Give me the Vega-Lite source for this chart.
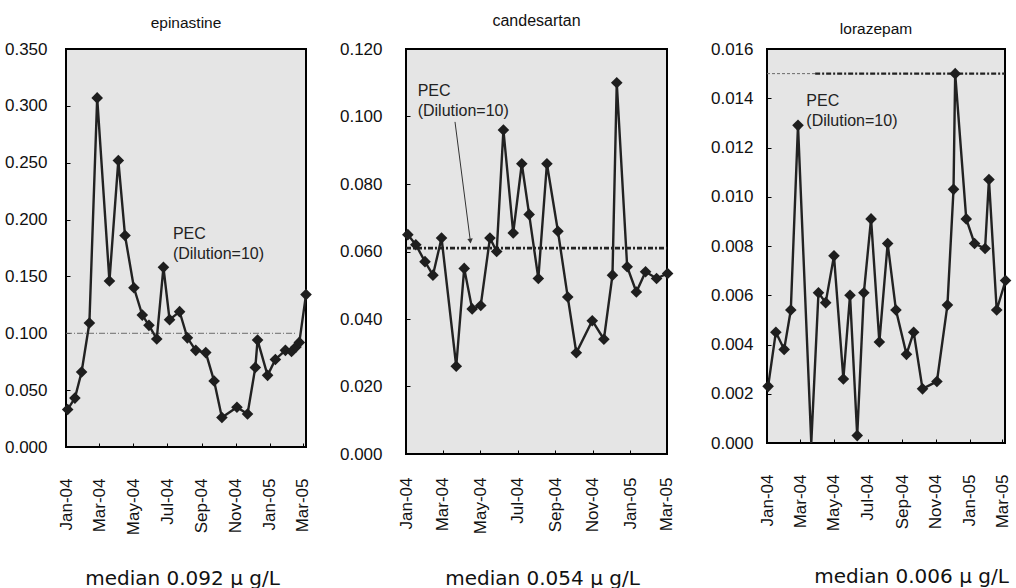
{
  "$schema": "https://vega.github.io/schema/vega-lite/v6.json",
  "background": "white",
  "padding": {"left": 3, "top": 12, "right": 0, "bottom": 0},
  "spacing": 100,
  "bounds": "flush",
  "config": {
    "view": {"fill": "#e5e5e5", "stroke": "#000000", "strokeWidth": 2},
    "axis": {"domain": false, "grid": false, "ticks": true, "tickColor": "#000000", "tickWidth": 1, "labelColor": "#111111", "titleColor": "#111111"}
  },
  "datasets": {
    "obs": [
      {"drug": "epinastine", "date": "2004-01-04", "conc": 0.033},
      {"drug": "epinastine", "date": "2004-01-17", "conc": 0.043},
      {"drug": "epinastine", "date": "2004-01-29", "conc": 0.066},
      {"drug": "epinastine", "date": "2004-02-12", "conc": 0.109},
      {"drug": "epinastine", "date": "2004-02-26", "conc": 0.307},
      {"drug": "epinastine", "date": "2004-03-19", "conc": 0.146},
      {"drug": "epinastine", "date": "2004-04-04", "conc": 0.252},
      {"drug": "epinastine", "date": "2004-04-16", "conc": 0.186},
      {"drug": "epinastine", "date": "2004-05-02", "conc": 0.140},
      {"drug": "epinastine", "date": "2004-05-17", "conc": 0.116},
      {"drug": "epinastine", "date": "2004-05-29", "conc": 0.107},
      {"drug": "epinastine", "date": "2004-06-12", "conc": 0.095},
      {"drug": "epinastine", "date": "2004-06-24", "conc": 0.158},
      {"drug": "epinastine", "date": "2004-07-05", "conc": 0.112},
      {"drug": "epinastine", "date": "2004-07-23", "conc": 0.119},
      {"drug": "epinastine", "date": "2004-08-06", "conc": 0.096},
      {"drug": "epinastine", "date": "2004-08-21", "conc": 0.085},
      {"drug": "epinastine", "date": "2004-09-08", "conc": 0.083},
      {"drug": "epinastine", "date": "2004-09-23", "conc": 0.058},
      {"drug": "epinastine", "date": "2004-10-07", "conc": 0.026},
      {"drug": "epinastine", "date": "2004-11-03", "conc": 0.035},
      {"drug": "epinastine", "date": "2004-11-22", "conc": 0.029},
      {"drug": "epinastine", "date": "2004-12-06", "conc": 0.070},
      {"drug": "epinastine", "date": "2004-12-10", "conc": 0.094},
      {"drug": "epinastine", "date": "2004-12-28", "conc": 0.063},
      {"drug": "epinastine", "date": "2005-01-11", "conc": 0.077},
      {"drug": "epinastine", "date": "2005-01-29", "conc": 0.085},
      {"drug": "epinastine", "date": "2005-02-09", "conc": 0.084},
      {"drug": "epinastine", "date": "2005-02-17", "conc": 0.088},
      {"drug": "epinastine", "date": "2005-02-23", "conc": 0.092},
      {"drug": "epinastine", "date": "2005-03-07", "conc": 0.134},
      {"drug": "candesartan", "date": "2004-01-04", "conc": 0.065},
      {"drug": "candesartan", "date": "2004-01-17", "conc": 0.062},
      {"drug": "candesartan", "date": "2004-02-01", "conc": 0.057},
      {"drug": "candesartan", "date": "2004-02-14", "conc": 0.053},
      {"drug": "candesartan", "date": "2004-02-28", "conc": 0.064},
      {"drug": "candesartan", "date": "2004-03-23", "conc": 0.026},
      {"drug": "candesartan", "date": "2004-04-05", "conc": 0.055},
      {"drug": "candesartan", "date": "2004-04-18", "conc": 0.043},
      {"drug": "candesartan", "date": "2004-05-02", "conc": 0.044},
      {"drug": "candesartan", "date": "2004-05-17", "conc": 0.064},
      {"drug": "candesartan", "date": "2004-05-28", "conc": 0.060},
      {"drug": "candesartan", "date": "2004-06-08", "conc": 0.096},
      {"drug": "candesartan", "date": "2004-06-24", "conc": 0.0655},
      {"drug": "candesartan", "date": "2004-07-08", "conc": 0.086},
      {"drug": "candesartan", "date": "2004-07-20", "conc": 0.071},
      {"drug": "candesartan", "date": "2004-08-04", "conc": 0.052},
      {"drug": "candesartan", "date": "2004-08-18", "conc": 0.086},
      {"drug": "candesartan", "date": "2004-09-05", "conc": 0.066},
      {"drug": "candesartan", "date": "2004-09-21", "conc": 0.0465},
      {"drug": "candesartan", "date": "2004-10-05", "conc": 0.030},
      {"drug": "candesartan", "date": "2004-10-31", "conc": 0.0395},
      {"drug": "candesartan", "date": "2004-11-19", "conc": 0.034},
      {"drug": "candesartan", "date": "2004-12-03", "conc": 0.053},
      {"drug": "candesartan", "date": "2004-12-10", "conc": 0.110},
      {"drug": "candesartan", "date": "2004-12-27", "conc": 0.0555},
      {"drug": "candesartan", "date": "2005-01-11", "conc": 0.048},
      {"drug": "candesartan", "date": "2005-01-26", "conc": 0.054},
      {"drug": "candesartan", "date": "2005-02-13", "conc": 0.052},
      {"drug": "candesartan", "date": "2005-03-03", "conc": 0.0535},
      {"drug": "lorazepam", "date": "2004-01-03", "conc": 0.0023},
      {"drug": "lorazepam", "date": "2004-01-17", "conc": 0.0045},
      {"drug": "lorazepam", "date": "2004-02-01", "conc": 0.0038},
      {"drug": "lorazepam", "date": "2004-02-13", "conc": 0.0054},
      {"drug": "lorazepam", "date": "2004-02-26", "conc": 0.0129},
      {"drug": "lorazepam", "date": "2004-03-21", "conc": 0.0},
      {"drug": "lorazepam", "date": "2004-04-03", "conc": 0.0061},
      {"drug": "lorazepam", "date": "2004-04-16", "conc": 0.0057},
      {"drug": "lorazepam", "date": "2004-05-01", "conc": 0.0076},
      {"drug": "lorazepam", "date": "2004-05-18", "conc": 0.0026},
      {"drug": "lorazepam", "date": "2004-05-30", "conc": 0.0060},
      {"drug": "lorazepam", "date": "2004-06-12", "conc": 0.0003},
      {"drug": "lorazepam", "date": "2004-06-24", "conc": 0.0061},
      {"drug": "lorazepam", "date": "2004-07-07", "conc": 0.0091},
      {"drug": "lorazepam", "date": "2004-07-22", "conc": 0.0041},
      {"drug": "lorazepam", "date": "2004-08-06", "conc": 0.0081},
      {"drug": "lorazepam", "date": "2004-08-21", "conc": 0.0054},
      {"drug": "lorazepam", "date": "2004-09-09", "conc": 0.0036},
      {"drug": "lorazepam", "date": "2004-09-22", "conc": 0.0045},
      {"drug": "lorazepam", "date": "2004-10-08", "conc": 0.0022},
      {"drug": "lorazepam", "date": "2004-11-03", "conc": 0.0025},
      {"drug": "lorazepam", "date": "2004-11-22", "conc": 0.0056},
      {"drug": "lorazepam", "date": "2004-12-03", "conc": 0.0103},
      {"drug": "lorazepam", "date": "2004-12-06", "conc": 0.0150},
      {"drug": "lorazepam", "date": "2004-12-26", "conc": 0.0091},
      {"drug": "lorazepam", "date": "2005-01-10", "conc": 0.0081},
      {"drug": "lorazepam", "date": "2005-01-29", "conc": 0.0079},
      {"drug": "lorazepam", "date": "2005-02-05", "conc": 0.0107},
      {"drug": "lorazepam", "date": "2005-02-19", "conc": 0.0054},
      {"drug": "lorazepam", "date": "2005-03-07", "conc": 0.0066}
    ],
    "pec": [
      {"drug": "epinastine", "part": "thin", "date": "2004-01-01", "date2": "2005-02-16", "conc": 0.100},
      {"drug": "candesartan", "part": "thick", "date": "2004-01-01", "date2": "2005-03-02", "conc": 0.061},
      {"drug": "lorazepam", "part": "thin", "date": "2004-01-01", "date2": "2004-03-28", "conc": 0.015},
      {"drug": "lorazepam", "part": "thick", "date": "2004-03-28", "date2": "2005-03-06", "conc": 0.015}
    ],
    "notes": [
      {"drug": "epinastine", "date": "2004-07-11", "conc": 0.194, "label": "PEC\n(Dilution=10)"},
      {"drug": "candesartan", "date": "2004-01-20", "conc": 0.110, "label": "PEC\n(Dilution=10)"},
      {"drug": "lorazepam", "date": "2004-03-12", "conc": 0.0142, "label": "PEC\n(Dilution=10)"}
    ],
    "arrow": [
      {"drug": "candesartan", "date": "2004-03-21", "conc": 0.0984, "date2": "2004-04-15", "conc2": 0.0631}
    ]
  },
  "hconcat": [
    {
      "width": 240,
      "height": 398,
      "title": {"text": "epinastine", "font": "Liberation Sans", "fontSize": 15.5, "fontWeight": "normal", "color": "#111111", "offset": 9},
      "encoding": {
        "x": {
          "field": "date", "type": "temporal",
          "scale": {"type": "utc", "nice": false, "domain": [{"year": 2004, "month": 1, "date": 1, "utc": true}, {"year": 2005, "month": 3, "date": 7, "utc": true}]},
          "axis": {"format": "%b-%y", "tickCount": {"interval": "month", "step": 2}, "labelAngle": 270, "labelFont": "Liberation Sans", "labelFontSize": 17, "labelOverlap": false, "tickSize": -4, "labelPadding": 35, "title": "median 0.092 μ g/L", "titleFont": "DejaVu Sans", "titleFontSize": 20, "titleFontWeight": "normal", "titleAlign": "center", "titleBaseline": "alphabetic", "titleX": 116, "titleY": 137}
        },
        "y": {
          "field": "conc", "type": "quantitative",
          "scale": {"domain": [0, 0.35], "nice": false},
          "axis": {"values": [0, 0.05, 0.1, 0.15, 0.2, 0.25, 0.3, 0.35], "format": ".3f", "labelFont": "Liberation Sans", "labelFontSize": 17, "tickSize": -4, "labelPadding": 23, "title": null}
        }
      },
      "layer": [
        {"data": {"name": "pec"}, "transform": [{"filter": "datum.drug === 'epinastine'"}], "mark": {"type": "rule", "color": "#6a6a6a", "strokeWidth": 1, "strokeDash": [6, 2, 1, 2]}, "encoding": {"x2": {"field": "date2"}}},
        {"data": {"name": "obs"}, "transform": [{"filter": "datum.drug === 'epinastine'"}], "mark": {"type": "line", "color": "#222222", "strokeWidth": 2.4}, "encoding": {}},
        {"data": {"name": "obs"}, "transform": [{"filter": "datum.drug === 'epinastine' && datum.conc > 0"}], "mark": {"type": "point", "shape": "diamond", "filled": true, "size": 135, "color": "#1e1e1e", "opacity": 1}, "encoding": {}},
        {"data": {"name": "notes"}, "transform": [{"filter": "datum.drug === 'epinastine'"}], "mark": {"type": "text", "align": "left", "baseline": "top", "lineBreak": "\n", "lineHeight": 20, "font": "Liberation Sans", "fontSize": 16, "color": "#222222"}, "encoding": {"text": {"field": "label"}}}
      ]
    },
    {
      "width": 261,
      "height": 405,
      "title": {"text": "candesartan", "font": "Liberation Sans", "fontSize": 16, "fontWeight": "normal", "color": "#111111", "offset": 11},
      "encoding": {
        "x": {
          "field": "date", "type": "temporal",
          "scale": {"type": "utc", "nice": false, "domain": [{"year": 2004, "month": 1, "date": 1, "utc": true}, {"year": 2005, "month": 3, "date": 2, "utc": true}]},
          "axis": {"format": "%b-%y", "tickCount": {"interval": "month", "step": 2}, "labelAngle": 270, "labelFont": "Liberation Sans", "labelFontSize": 17, "labelOverlap": false, "tickSize": -4, "labelPadding": 27, "title": "median 0.054  μ g/L", "titleFont": "DejaVu Sans", "titleFontSize": 20, "titleFontWeight": "normal", "titleAlign": "center", "titleBaseline": "alphabetic", "titleX": 136, "titleY": 130}
        },
        "y": {
          "field": "conc", "type": "quantitative",
          "scale": {"domain": [0, 0.12], "nice": false},
          "axis": {"values": [0, 0.02, 0.04, 0.06, 0.08, 0.1, 0.12], "format": ".3f", "labelFont": "Liberation Sans", "labelFontSize": 17, "tickSize": -4, "labelPadding": 28, "title": null}
        }
      },
      "layer": [
        {"data": {"name": "pec"}, "transform": [{"filter": "datum.drug === 'candesartan'"}], "mark": {"type": "rule", "color": "#222222", "strokeWidth": 2.6, "strokeDash": [5, 2, 2, 2]}, "encoding": {"x2": {"field": "date2"}}},
        {"data": {"name": "arrow"}, "mark": {"type": "rule", "color": "#333333", "strokeWidth": 1}, "encoding": {"x2": {"field": "date2"}, "y2": {"field": "conc2"}}},
        {"data": {"name": "arrow"}, "mark": {"type": "point", "shape": "triangle-down", "filled": true, "size": 30, "angle": -7, "color": "#333333", "opacity": 1}, "encoding": {"x": {"field": "date2", "type": "temporal"}, "y": {"field": "conc2", "type": "quantitative"}}},
        {"data": {"name": "obs"}, "transform": [{"filter": "datum.drug === 'candesartan'"}], "mark": {"type": "line", "color": "#222222", "strokeWidth": 2.4}, "encoding": {}},
        {"data": {"name": "obs"}, "transform": [{"filter": "datum.drug === 'candesartan' && datum.conc > 0"}], "mark": {"type": "point", "shape": "diamond", "filled": true, "size": 135, "color": "#1e1e1e", "opacity": 1}, "encoding": {}},
        {"data": {"name": "notes"}, "transform": [{"filter": "datum.drug === 'candesartan'"}], "mark": {"type": "text", "align": "left", "baseline": "top", "lineBreak": "\n", "lineHeight": 20, "font": "Liberation Sans", "fontSize": 16, "color": "#222222"}, "encoding": {"text": {"field": "label"}}}
      ]
    },
    {
      "width": 238,
      "height": 394,
      "title": {"text": "lorazepam", "font": "Liberation Sans", "fontSize": 15.5, "fontWeight": "normal", "color": "#111111", "offset": 3, "dx": -10},
      "encoding": {
        "x": {
          "field": "date", "type": "temporal",
          "scale": {"type": "utc", "nice": false, "domain": [{"year": 2004, "month": 1, "date": 1, "utc": true}, {"year": 2005, "month": 3, "date": 6, "utc": true}]},
          "axis": {"format": "%b-%y", "tickCount": {"interval": "month", "step": 2}, "labelAngle": 270, "labelFont": "Liberation Sans", "labelFontSize": 17, "labelOverlap": false, "tickSize": -4, "labelPadding": 35, "title": "median 0.006  μ g/L", "titleFont": "DejaVu Sans", "titleFontSize": 20, "titleFontWeight": "normal", "titleAlign": "center", "titleBaseline": "alphabetic", "titleX": 144, "titleY": 139}
        },
        "y": {
          "field": "conc", "type": "quantitative",
          "scale": {"domain": [0, 0.016], "nice": false},
          "axis": {"values": [0, 0.002, 0.004, 0.006, 0.008, 0.01, 0.012, 0.014, 0.016], "format": ".3f", "labelFont": "Liberation Sans", "labelFontSize": 17, "tickSize": -4, "labelPadding": 18, "title": null}
        }
      },
      "layer": [
        {"data": {"name": "pec"}, "transform": [{"filter": "datum.drug === 'lorazepam' && datum.part === 'thin'"}], "mark": {"type": "rule", "color": "#6a6a6a", "strokeWidth": 1, "strokeDash": [3, 2]}, "encoding": {"x2": {"field": "date2"}}},
        {"data": {"name": "pec"}, "transform": [{"filter": "datum.drug === 'lorazepam' && datum.part === 'thick'"}], "mark": {"type": "rule", "color": "#222222", "strokeWidth": 2.4, "strokeDash": [5, 2, 2, 2]}, "encoding": {"x2": {"field": "date2"}}},
        {"data": {"name": "obs"}, "transform": [{"filter": "datum.drug === 'lorazepam'"}], "mark": {"type": "line", "color": "#222222", "strokeWidth": 2.4}, "encoding": {}},
        {"data": {"name": "obs"}, "transform": [{"filter": "datum.drug === 'lorazepam' && datum.conc > 0"}], "mark": {"type": "point", "shape": "diamond", "filled": true, "size": 135, "color": "#1e1e1e", "opacity": 1}, "encoding": {}},
        {"data": {"name": "notes"}, "transform": [{"filter": "datum.drug === 'lorazepam'"}], "mark": {"type": "text", "align": "left", "baseline": "top", "lineBreak": "\n", "lineHeight": 20, "font": "Liberation Sans", "fontSize": 16, "color": "#222222"}, "encoding": {"text": {"field": "label"}}}
      ]
    }
  ]
}
